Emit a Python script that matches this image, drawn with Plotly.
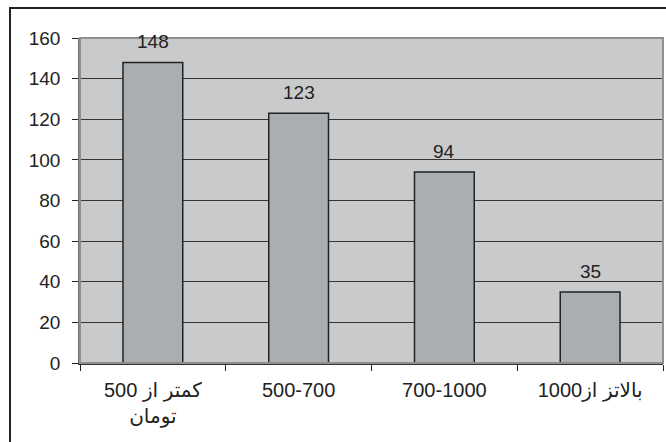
import plotly.graph_objects as go

categories = ["کمتر از 500<br>تومان", "500-700", "700-1000", "بالاتز از1000"]
values = [148, 123, 94, 35]
y_ticks = [0, 20, 40, 60, 80, 100, 120, 140, 160]

FONT = "Liberation Sans, Arial, DejaVu Sans, sans-serif"

fig = go.Figure()
fig.add_trace(go.Bar(
    x=categories, y=values, width=0.41,
    marker=dict(color="#abaeb1", line=dict(color="#222222", width=1.5)),
    hoverinfo="skip",
))

for c, v in zip(categories, values):
    fig.add_annotation(x=c, y=v, text=str(v), showarrow=False,
                       yanchor="bottom", yshift=8,
                       font=dict(family=FONT, size=19, color="#222222"))

# plot area border (top / right)
fig.add_shape(type="rect", xref="paper", yref="paper", x0=0, y0=0, x1=1, y1=1,
              line=dict(color="#8f8f8f", width=2), layer="above")
# outer chart border: left and top edges (right/bottom fall outside the picture)
fig.add_shape(type="line", xref="paper", yref="paper",
              xsizemode="pixel", xanchor=0, x0=-70, x1=-70,
              ysizemode="pixel", yanchor=1, y0=30, y1=-420,
              line=dict(color="#222222", width=2), layer="above")
fig.add_shape(type="line", xref="paper", yref="paper",
              xsizemode="pixel", xanchor=0, x0=-71, x1=620,
              ysizemode="pixel", yanchor=1, y0=30, y1=30,
              line=dict(color="#222222", width=2), layer="above")

fig.update_layout(
    width=666, height=442,
    margin=dict(l=80, r=3, t=38, b=79),
    paper_bgcolor="white",
    plot_bgcolor="#c9cacc",
    showlegend=False,
    font=dict(family=FONT, size=19, color="#222222"),
    bargap=0.59,
)
fig.update_xaxes(
    type="category", tickson="boundaries", ticks="outside", ticklen=6,
    tickcolor="#222222", showline=True, linecolor="#333333", linewidth=1.5,
    showgrid=False, ticklabelstandoff=8,
    tickfont=dict(family=FONT, size=20, color="#222222"),
)
fig.update_yaxes(
    range=[0, 160], tickvals=y_ticks, ticks="outside", ticklen=6,
    tickcolor="#222222", showline=True, linecolor="#6f6f6f", linewidth=1.5,
    showgrid=True, gridcolor="#333333", gridwidth=1, zeroline=False,
    ticklabelstandoff=8,
    tickfont=dict(family=FONT, size=19, color="#222222"),
)

fig.write_html("out.html", config={"displayModeBar": False},
               post_script="document.body.style.margin='0';document.body.style.overflow='hidden';")
